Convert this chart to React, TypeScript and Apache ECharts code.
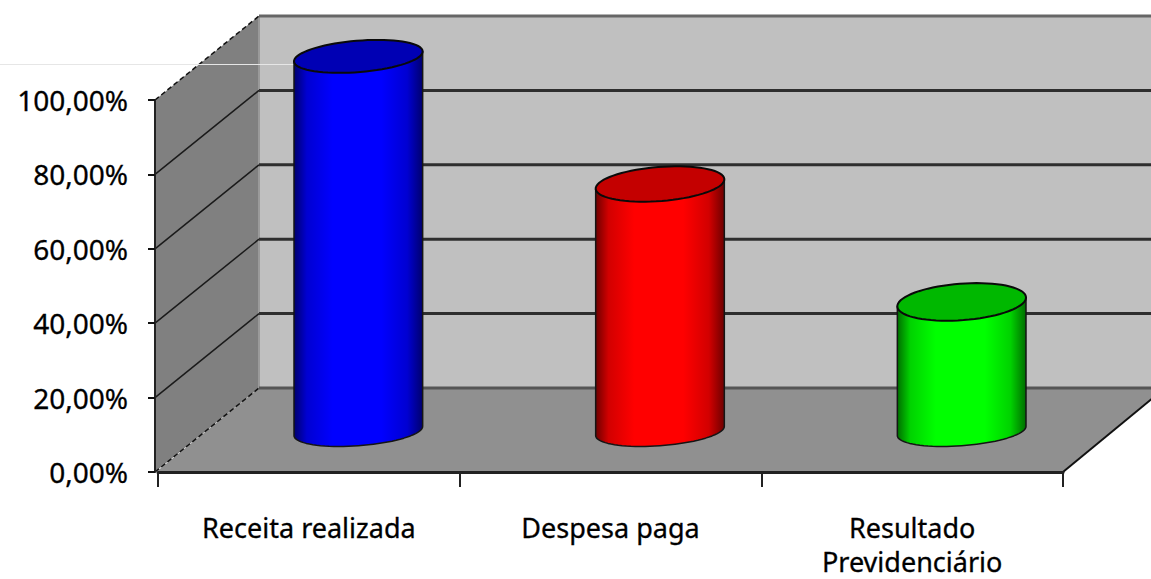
import React, { useEffect, useRef } from "react";
import * as echarts from "echarts";

const categories = ["Receita realizada", "Despesa paga", "Resultado\nPrevidenciário"];
const seriesValues = [100.3, 66, 34.3];
const yTicks = [20, 40, 60, 80];

const palette = [
  { top: "#0000b4", dark: "#00006e", mid: "#0000d2", full: "#0000ff" },
  { top: "#c40000", dark: "#6e0000", mid: "#d20000", full: "#ff0000" },
  { top: "#00b800", dark: "#006e00", mid: "#00d200", full: "#00ff00" },
];

const DEPTH_X = 102;
const DEPTH_Y = -84;
const FONT = '"Noto Sans", sans-serif';

function ellipsePoint(cx: number, cy: number, a: number, b: number, c: number, d: number, t: number) {
  return [cx + a * Math.cos(t) + c * Math.sin(t), cy + b * Math.cos(t) + d * Math.sin(t)];
}

function ellipsePoints(cx: number, cy: number, a: number, b: number, c: number, d: number, from: number, to: number, n: number) {
  const pts: number[][] = [];
  for (let i = 0; i <= n; i++) {
    pts.push(ellipsePoint(cx, cy, a, b, c, d, from + ((to - from) * i) / n));
  }
  return pts;
}

function renderWalls(params: any, api: any) {
  const g = params.coordSys;
  const left = g.x - 3;
  const right = g.x + g.width;
  const y0 = api.coord([0, 0])[1];
  const y100 = api.coord([0, 100])[1];
  const bx = g.x + DEPTH_X - 1;
  const children: any[] = [
    { type: "polygon", shape: { points: [[bx, y100 + DEPTH_Y], [right + DEPTH_X, y100 + DEPTH_Y], [right + DEPTH_X, y0 + DEPTH_Y], [bx, y0 + DEPTH_Y]] }, style: { fill: "#c0c0c0" } },
    { type: "polygon", shape: { points: [[left, y100], [bx, y100 + DEPTH_Y], [bx, y0 + DEPTH_Y], [left, y0]] }, style: { fill: "#808080" } },
    { type: "polygon", shape: { points: [[g.x - 2, y0], [right, y0], [right + DEPTH_X, y0 + DEPTH_Y], [bx, y0 + DEPTH_Y]] }, style: { fill: "#909090" } },
    { type: "line", shape: { x1: bx, y1: y100 + DEPTH_Y, x2: bx, y2: y0 + DEPTH_Y }, style: { stroke: "#9a9a9a", lineWidth: 2 } },
    { type: "line", shape: { x1: bx, y1: y100 + DEPTH_Y, x2: right + DEPTH_X, y2: y100 + DEPTH_Y }, style: { stroke: "#666666", lineWidth: 3 } },
    { type: "line", shape: { x1: bx, y1: y0 + DEPTH_Y, x2: right + DEPTH_X, y2: y0 + DEPTH_Y }, style: { stroke: "#555555", lineWidth: 3 } },
    { type: "line", shape: { x1: left, y1: y100, x2: bx, y2: y100 + DEPTH_Y }, style: { stroke: "#111111", lineWidth: 1.5, lineDash: [5, 3] } },
    { type: "line", shape: { x1: left, y1: y0, x2: bx, y2: y0 + DEPTH_Y }, style: { stroke: "#111111", lineWidth: 1.5, lineDash: [5, 3] } },
    { type: "line", shape: { x1: right, y1: y0, x2: right + DEPTH_X, y2: y0 + DEPTH_Y }, style: { stroke: "#111111", lineWidth: 2 } },
  ];
  yTicks.forEach((v) => {
    const y = api.coord([0, v])[1];
    children.push({ type: "line", shape: { x1: left, y1: y, x2: bx, y2: y + DEPTH_Y }, style: { stroke: "#1a1a1a", lineWidth: 1.5 } });
    children.push({ type: "line", shape: { x1: bx, y1: y + DEPTH_Y, x2: right + DEPTH_X, y2: y + DEPTH_Y }, style: { stroke: "#2e2e2e", lineWidth: 3 } });
  });
  children.push({ type: "line", shape: { x1: 0, y1: 64.5, x2: 294, y2: 64.5 }, style: { stroke: "#e6e6e6", lineWidth: 1 } });
  return { type: "group", children };
}

function renderCylinder(params: any, api: any) {
  const i = api.value(0);
  const v = api.value(1);
  const base = api.coord([i, 0]);
  const top = api.coord([i, v]);
  const cx = base[0] + DEPTH_X / 2 - 1.5;
  const by = base[1] + DEPTH_Y / 2 + 1;
  const ty = top[1] + DEPTH_Y / 2 - 0.5;
  const a = 63;
  const c = -13;
  const t0 = Math.atan2(c, a);
  const topB = -8;
  const topR = 20 - 0.035 * v;
  const topD = -Math.sqrt(topR * topR - topB * topB);
  const baseB = -7.5;
  const baseD = -13.5;
  const lower = ellipsePoints(cx, by, a, baseB, c, baseD, Math.PI + t0, 2 * Math.PI + t0, 40);
  const topPts = ellipsePoints(cx, ty, a, topB, c, topD, 0, 2 * Math.PI, 72);
  const L = ellipsePoint(cx, ty, a, topB, c, topD, Math.PI + t0);
  const R = ellipsePoint(cx, ty, a, topB, c, topD, t0);
  const col = palette[params.dataIndex];
  const gradient = new echarts.graphic.LinearGradient(0, 0, 1, 0, [
    { offset: 0, color: col.dark },
    { offset: 0.1, color: col.mid },
    { offset: 0.3, color: col.full },
    { offset: 0.68, color: col.full },
    { offset: 0.88, color: col.mid },
    { offset: 1, color: col.dark },
  ]);
  const body = [L, ...lower, R];
  return {
    type: "group",
    children: [
      { type: "polygon", shape: { points: body }, style: { fill: gradient, stroke: "#151515", lineWidth: 1.5, lineJoin: "round" } },
      { type: "polygon", shape: { points: topPts }, style: { fill: col.top, stroke: "#0a0a0a", lineWidth: 2 } },
    ],
  };
}

export default function App() {
  const ref = useRef<HTMLDivElement>(null);
  useEffect(() => {
    const chart = echarts.init(ref.current!, undefined, { renderer: "svg" });
    chart.setOption({
      animation: false,
      backgroundColor: "#ffffff",
      grid: { left: 158, right: 88, top: 100, bottom: 107, containLabel: false, outerBoundsMode: "none" },
      xAxis: {
        type: "category",
        data: categories,
        z: 5,
        axisLine: { lineStyle: { color: "#222222", width: 3 } },
        axisTick: { show: true, alignWithLabel: false, length: 15, lineStyle: { color: "#222222", width: 2 } },
        axisLabel: { color: "#000000", fontFamily: FONT, fontSize: 27, lineHeight: 34, margin: 38, interval: 0, verticalAlign: "top", textBorderColor: "#000000", textBorderWidth: 0.3 },
      },
      yAxis: {
        type: "value",
        min: 0,
        max: 100,
        interval: 20,
        offset: 3,
        z: 5,
        axisLine: { show: true, lineStyle: { color: "#222222", width: 2 } },
        axisTick: { show: true, length: 7, lineStyle: { color: "#111111", width: 2 } },
        splitLine: { show: false },
        axisLabel: {
          color: "#000000",
          fontFamily: FONT,
          fontSize: 28,
          margin: 27,
          textBorderColor: "#000000",
          textBorderWidth: 0.3,
          formatter: (v: number) => v.toFixed(2).replace(".", ",") + "%",
        },
      },
      series: [
        { type: "custom", z: 1, silent: true, renderItem: renderWalls, data: [[0, 0]], encode: { x: 0, y: 1 } },
        {
          type: "custom",
          z: 6,
          renderItem: renderCylinder,
          data: seriesValues.map((v, i) => [i, v]),
          encode: { x: 0, y: 1 },
        },
      ],
    });
    return () => chart.dispose();
  }, []);
  return <div ref={ref} style={{ position: "absolute", left: 0, top: 0, width: 1151, height: 579, overflow: "hidden" }} />;
}
